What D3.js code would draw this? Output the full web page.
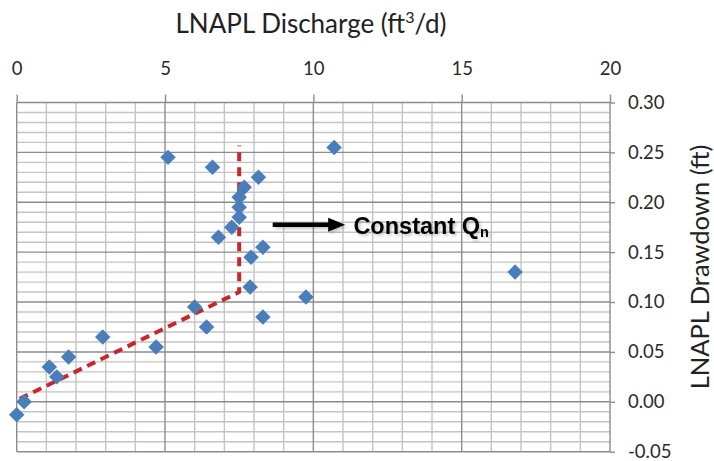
<!DOCTYPE html>
<html>
<head>
<meta charset="utf-8">
<script src="https://cdn.jsdelivr.net/npm/d3@7/dist/d3.min.js"></script>
<style>
  html, body { margin: 0; padding: 0; background: #fff; }
  svg { display: block; }
</style>
</head>
<body>
<svg id="chart" width="714" height="461"></svg>
<script>
// ---- data ----
const xTicks = [0, 5, 10, 15, 20];
const yTicks = [-0.05, 0.00, 0.05, 0.10, 0.15, 0.20, 0.25, 0.30];
const xMinor = d3.range(0, 21, 1);
const yMinor = d3.range(-5, 31, 1).map(v => v / 100);

const discharge = [5.1, 6.6, 8.15, 7.67, 7.5, 7.5, 7.5, 7.25, 6.8, 8.3, 7.9,
                   10.7, 16.8, 7.87, 9.75, 8.3, 6.0, 6.4, 2.9, 4.7, 1.75, 1.1, 1.35, 0.25, 0.0];
const drawdown  = [0.245, 0.235, 0.225, 0.215, 0.205, 0.195, 0.185, 0.175, 0.165, 0.155, 0.145,
                   0.255, 0.13, 0.115, 0.105, 0.085, 0.095, 0.075, 0.065, 0.055, 0.045, 0.035, 0.025, 0.0, -0.013];

const trendX = [0.1, 7.5, 7.5];
const trendY = [0.003, 0.11, 0.257];

const xTitleParts = ["LNAPL Discharge (ft", "3", "/d)"];
const yTitle = "LNAPL Drawdown (ft)";
const annotationText = "Constant Q";
const annotationSub = "n";

// ---- layout ----
const svg = d3.select("#chart");
const x = d3.scaleLinear().domain([0, 20]).range([16.7, 610]);
const y = d3.scaleLinear().domain([-0.05, 0.30]).range([451.7, 102.5]);

const defs = svg.append("defs");
const f = defs.append("filter").attr("id", "shadow").attr("x", "-20%").attr("y", "-40%").attr("width", "140%").attr("height", "180%");
f.append("feDropShadow").attr("dx", 2).attr("dy", 2).attr("stdDeviation", 1.5).attr("flood-color", "#000").attr("flood-opacity", 0.22);

// minor grid
const grid = svg.append("g");
grid.selectAll("line.vx").data(xMinor.filter(v => v % 5 !== 0)).join("line")
  .attr("x1", d => x(d)).attr("x2", d => x(d)).attr("y1", y(0.30)).attr("y2", y(-0.05))
  .attr("stroke", "#c4c4c4").attr("stroke-width", 1.4);
grid.selectAll("line.hy").data(yMinor.filter(v => Math.round(v * 100) % 5 !== 0)).join("line")
  .attr("x1", x(0)).attr("x2", x(20)).attr("y1", d => y(d)).attr("y2", d => y(d))
  .attr("stroke", "#c4c4c4").attr("stroke-width", 1.4);
// major grid
grid.selectAll("line.mx").data(xTicks).join("line")
  .attr("x1", d => x(d)).attr("x2", d => x(d)).attr("y1", y(0.30)).attr("y2", y(-0.05))
  .attr("stroke", "#8c8c8c").attr("stroke-width", 1.4);
grid.selectAll("line.my").data(yTicks).join("line")
  .attr("x1", x(0)).attr("x2", x(20)).attr("y1", d => y(d)).attr("y2", d => y(d))
  .attr("stroke", "#8c8c8c").attr("stroke-width", 1.4);

// top axis
const topAxis = svg.append("g").attr("transform", `translate(0,${y(0.30)})`)
  .call(d3.axisTop(x).tickValues(xTicks).tickSize(8).tickPadding(20).tickFormat(d3.format("d")));
topAxis.select(".domain").remove();
topAxis.selectAll(".tick line").attr("stroke", "#8c8c8c").attr("stroke-width", 1.4);
topAxis.selectAll(".tick text").attr("font-family", "Lato, sans-serif").attr("font-size", 18.5).attr("fill", "#2a2a2a");

// right axis
const rightAxis = svg.append("g").attr("transform", `translate(${x(20)},0)`)
  .call(d3.axisRight(y).tickValues(yTicks).tickSize(5).tickPadding(13).tickFormat(d => d.toFixed(2)));
rightAxis.select(".domain").remove();
rightAxis.selectAll(".tick line").attr("stroke", "#8c8c8c").attr("stroke-width", 1.4);
rightAxis.selectAll(".tick text").attr("font-family", "Lato, sans-serif").attr("font-size", 18.5).attr("fill", "#2a2a2a");

// titles
const xt = svg.append("text").attr("x", 311).attr("y", 32.5).attr("text-anchor", "middle")
  .attr("font-family", "Lato, sans-serif").attr("font-size", 26).attr("fill", "#222");
xt.append("tspan").text(xTitleParts[0]);
xt.append("tspan").attr("font-size", 16).attr("dy", -10).text(xTitleParts[1]);
xt.append("tspan").attr("dy", 10).text(xTitleParts[2]);
svg.append("text").attr("transform", "translate(709,267) rotate(-90)").attr("text-anchor", "middle")
  .attr("font-family", "Lato, sans-serif").attr("font-size", 25.5).attr("fill", "#222").text(yTitle);

// trend line
const pts = trendX.map((v, i) => [v, trendY[i]]);
svg.append("path").datum(pts)
  .attr("d", d3.line().x(d => x(d[0])).y(d => y(d[1])))
  .attr("fill", "none").attr("stroke", "#c8262c").attr("stroke-width", 4)
  .attr("stroke-dasharray", "9,6").attr("stroke-linejoin", "round");

// points
const data = discharge.map((v, i) => ({ q: v, s: drawdown[i] }));
const sym = d3.symbol().type(d3.symbolSquare).size(120);
svg.append("g").selectAll("path").data(data).join("path")
  .attr("d", sym)
  .attr("transform", d => `translate(${x(d.q)},${y(d.s)}) rotate(45)`)
  .attr("fill", "#4a7ebb");

// annotation
const ann = svg.append("g").attr("filter", "url(#shadow)");
const ay = y(0.1774);
ann.append("line").attr("x1", x(8.63)).attr("x2", x(10.6)).attr("y1", ay).attr("y2", ay)
  .attr("stroke", "#000").attr("stroke-width", 4.5);
ann.append("path")
  .attr("d", `M${x(11.07)},${ay} L${x(10.5)},${ay - 7} L${x(10.5)},${ay + 7} Z`)
  .attr("fill", "#000");
const t = ann.append("text").attr("x", x(11.35)).attr("y", y(0.168))
  .attr("font-family", "Liberation Sans, Arial, sans-serif").attr("font-weight", "bold")
  .attr("font-size", 23.5).attr("fill", "#000");
t.append("tspan").text(annotationText);
t.append("tspan").attr("font-size", 14.5).attr("dy", 2.5).text(annotationSub);
</script>
</body>
</html>
